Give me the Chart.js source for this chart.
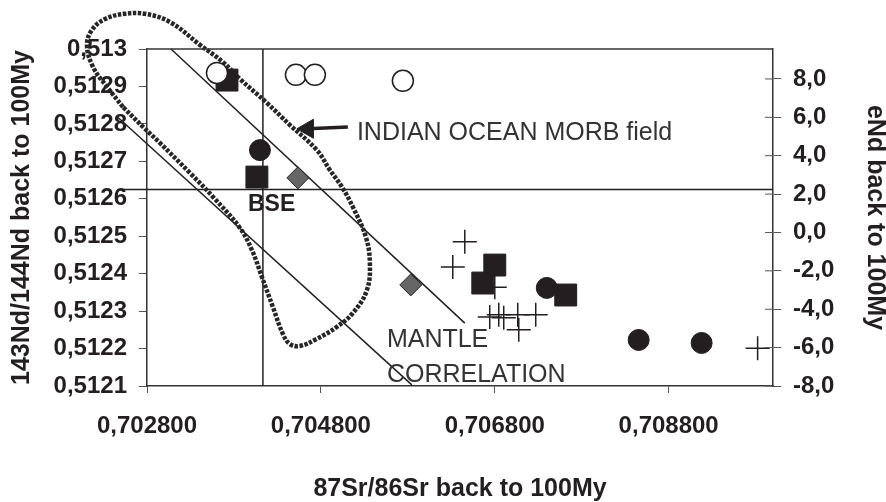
<!DOCTYPE html>
<html>
<head>
<meta charset="utf-8">
<script src="https://cdn.jsdelivr.net/npm/chart.js@4.4.1/dist/chart.umd.min.js"></script>
<style>
  html, body { margin: 0; padding: 0; background: #fff; }
  #wrap { width: 886px; height: 502px; position: relative; }
</style>
</head>
<body>
<div id="wrap"><canvas id="srNdChart"></canvas></div>
<script>
// 87Sr/86Sr vs 143Nd/144Nd (back to 100My)
const xTicks = [0.7028, 0.7048, 0.7068, 0.7088];
const xTickLabels = ['0,702800', '0,704800', '0,706800', '0,708800'];
const ndTicks = [0.5121, 0.5122, 0.5123, 0.5124, 0.5125, 0.5126, 0.5127, 0.5128, 0.5129, 0.5130];
const ndTickLabels = ['0,5121', '0,5122', '0,5123', '0,5124', '0,5125', '0,5126', '0,5127', '0,5128', '0,5129', '0,513'];
const eNdTicks = [-8, -6, -4, -2, 0, 2, 4, 6, 8];
const eNdTickLabels = ['-8,0', '-6,0', '-4,0', '-2,0', '0,0', '2,0', '4,0', '6,0', '8,0'];

// samples
const openCircleSr = [0.703605, 0.704513, 0.704731, 0.705743];
const openCircleNd = [0.512936, 0.512931, 0.512931, 0.512915];
const filledCircleSr = [0.704099, 0.707398, 0.708455, 0.709179];
const filledCircleNd = [0.512730, 0.512362, 0.512223, 0.512215];
const squareSr = [0.703720, 0.704064, 0.706800, 0.706662, 0.707616];
const squareNd = [0.512917, 0.512658, 0.512423, 0.512375, 0.512343];
const diamondSr = [0.704536, 0.705834];
const diamondNd = [0.512656, 0.512370];
const crossSr = [0.706455, 0.706317, 0.706800, 0.706742, 0.706846, 0.706903, 0.707064, 0.707271, 0.707076, 0.709823];
const crossNd = [0.512485, 0.512418, 0.512364, 0.512284, 0.512290, 0.512282, 0.512290, 0.512290, 0.512250, 0.512201];

// reference lines
const bseSr = 0.704133;
const bseNd = 0.512625;
const upperTrendSr = [0.703076, 0.706455];
const upperTrendNd = [0.513000, 0.512268];
const lowerTrendSr = [0.702467, 0.705846];
const lowerTrendNd = [0.512817, 0.512103];

// Indian Ocean MORB field outline
const morbSr = [0.702524, 0.702340, 0.702179, 0.702110, 0.702168, 0.702317, 0.702547, 0.702777, 0.703064,
  0.703409, 0.703674, 0.703869, 0.704179, 0.704444, 0.704754, 0.704903, 0.705041, 0.705168, 0.705317,
  0.705363, 0.705329, 0.705168, 0.704984, 0.704754, 0.704559, 0.704444, 0.704363, 0.704248, 0.704122,
  0.704007, 0.703869, 0.703559, 0.703294, 0.702949, 0.702754, 0.702524];
const morbNd = [0.512845, 0.512899, 0.512952, 0.513011, 0.513051, 0.513080, 0.513094, 0.513094, 0.513072,
  0.513011, 0.512965, 0.512920, 0.512856, 0.512797, 0.512730, 0.512677, 0.512632, 0.512578, 0.512498,
  0.512429, 0.512356, 0.512295, 0.512258, 0.512226, 0.512207, 0.512212, 0.512239, 0.512311, 0.512391,
  0.512463, 0.512522, 0.512605, 0.512669, 0.512749, 0.512792, 0.512845];
const arrowSr = [0.705110, 0.704651];
const arrowNd = [0.512792, 0.512787];

const pts = (xs, ys) => xs.map((x, i) => ({ x: x, y: ys[i] }));

const labels = [
  { text: 'INDIAN OCEAN MORB field', x: 0.705214, y: 0.512776, bold: false },
  { text: 'MANTLE', x: 0.705559, y: 0.512223, bold: false },
  { text: 'CORRELATION', x: 0.705559, y: 0.512129, bold: false },
  { text: 'BSE', x: 0.703961, y: 0.512583, bold: true }
];

const FONT = "'Liberation Sans', Arial, Helvetica, sans-serif";
const INK = '#231f20';

const extrasPlugin = {
  id: 'extras',
  afterDatasetsDraw(chart) {
    const { ctx, chartArea, scales } = chart;
    ctx.save();
    ctx.strokeStyle = '#333';
    ctx.lineWidth = 1.5;
    ctx.beginPath();
    ctx.moveTo(chartArea.left, chartArea.top);
    ctx.lineTo(chartArea.right, chartArea.top);
    ctx.stroke();
    // inner half of right axis ticks
    ctx.lineWidth = 1;
    ctx.strokeStyle = '#555';
    eNdTicks.forEach(v => {
      const py = scales.y2.getPixelForValue(v);
      ctx.beginPath();
      ctx.moveTo(chartArea.right - 8, py);
      ctx.lineTo(chartArea.right, py);
      ctx.stroke();
    });
    labels.forEach(l => {
      ctx.font = (l.bold ? 'bold 23px ' : '25px ') + FONT;
      ctx.fillStyle = l.bold ? INK : '#333';
      ctx.textAlign = 'left';
      ctx.textBaseline = 'middle';
      ctx.fillText(l.text, scales.x.getPixelForValue(l.x), scales.y.getPixelForValue(l.y));
    });
    ctx.restore();
  }
};

const lineStyle = { showLine: true, pointRadius: 0, borderColor: INK, borderWidth: 1.5, clip: false, fill: false };
const tickFont = { family: FONT, size: 24, weight: 'bold' };

new Chart(document.getElementById('srNdChart'), {
  type: 'scatter',
  data: {
    datasets: [
      { data: pts(openCircleSr, openCircleNd), pointStyle: 'circle', pointRadius: 10.5,
        backgroundColor: '#fff', borderColor: INK, borderWidth: 1.5 },
      { data: pts(filledCircleSr, filledCircleNd), pointStyle: 'circle', pointRadius: 10.5,
        backgroundColor: INK, borderColor: INK, borderWidth: 1 },
      { data: pts(squareSr, squareNd), pointStyle: 'rect', pointRadius: 15.5,
        backgroundColor: INK, borderColor: INK, borderWidth: 1 },
      { data: pts(diamondSr, diamondNd), pointStyle: 'rectRot', pointRadius: 11,
        backgroundColor: '#666', borderColor: INK, borderWidth: 1 },
      { data: pts(crossSr, crossNd), pointStyle: 'cross', pointRadius: 12,
        borderColor: INK, borderWidth: 1.5 },
      { data: pts(arrowSr, arrowNd), showLine: true, borderColor: INK, borderWidth: 3.5, clip: false,
        pointStyle: 'triangle', pointRadius: [0, 11], pointRotation: -90,
        backgroundColor: INK, pointBorderColor: INK, pointBorderWidth: 1 },
      { data: pts(morbSr, morbNd), showLine: true, pointRadius: 0, tension: 0.4, clip: false,
        borderColor: '#262626', borderWidth: 4.5, borderDash: [3.5, 1.5], fill: false },
      Object.assign({ data: pts(upperTrendSr, upperTrendNd) }, lineStyle),
      Object.assign({ data: pts(lowerTrendSr, lowerTrendNd) }, lineStyle),
      Object.assign({ data: [{ x: bseSr, y: 0.5121 }, { x: bseSr, y: 0.5130 }] }, lineStyle),
      Object.assign({ data: [{ x: 0.70249, y: bseNd }, { x: 0.7100, y: bseNd }] }, lineStyle)
    ]
  },
  options: {
    responsive: true,
    maintainAspectRatio: false,
    animation: false,
    layout: { padding: { top: 49, left: 0, right: 0, bottom: 0 } },
    plugins: { legend: { display: false }, tooltip: { enabled: false } },
    scales: {
      x: {
        type: 'linear', position: 'bottom', min: 0.7028, max: 0.7100,
        afterBuildTicks: s => { s.ticks = xTicks.map(v => ({ value: v })); },
        afterFit: s => { s.height = 116; },
        grid: { display: true, drawOnChartArea: false, drawTicks: true, tickLength: 7, color: '#555' },
        border: { display: true, color: '#333', width: 1.5 },
        ticks: { padding: 19, color: INK, font: tickFont, callback: (v, i) => xTickLabels[i] },
        title: { display: true, text: '87Sr/86Sr back to 100My', color: INK,
          font: { family: FONT, size: 25, weight: 'bold' }, padding: { top: 0, bottom: -2 } }
      },
      y: {
        type: 'linear', position: 'left', min: 0.5121, max: 0.5130,
        afterBuildTicks: s => { s.ticks = ndTicks.map(v => ({ value: v })); },
        afterFit: s => { s.width = 147; },
        grid: { display: true, drawOnChartArea: false, drawTicks: true, tickLength: 8, color: '#555' },
        border: { display: true, color: '#333', width: 1.5 },
        ticks: { padding: 12, color: INK, font: tickFont, callback: (v, i) => ndTickLabels[i] },
        title: { display: true, text: '143Nd/144Nd back to 100My', color: INK,
          font: { family: FONT, size: 25, weight: 'bold' }, padding: { top: 7, bottom: 0 } }
      },
      y2: {
        type: 'linear', position: 'right', min: -8, max: 9.56,
        afterBuildTicks: s => { s.ticks = eNdTicks.map(v => ({ value: v })); },
        afterFit: s => { s.width = 113; },
        grid: { display: true, drawOnChartArea: false, drawTicks: true, tickLength: 8, color: '#555' },
        border: { display: true, color: '#333', width: 1.5 },
        ticks: { padding: 12, color: INK, font: tickFont, callback: (v, i) => eNdTickLabels[i] },
        title: { display: true, text: 'eNd back to 100My', color: INK,
          font: { family: FONT, size: 25, weight: 'bold', lineHeight: 0.9 }, padding: { top: 0, bottom: 0 } }
      }
    }
  },
  plugins: [extrasPlugin]
});
</script>
</body>
</html>
